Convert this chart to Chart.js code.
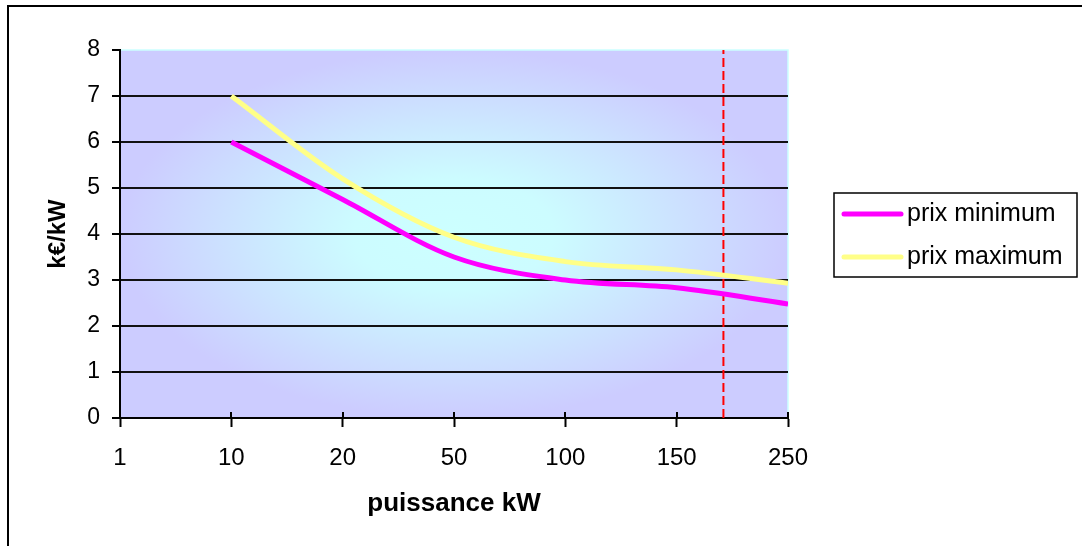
<!DOCTYPE html>
<html>
<head>
<meta charset="utf-8">
<script src="https://cdn.jsdelivr.net/npm/chart.js@4.4.0/dist/chart.umd.min.js"></script>
<style>
  html, body { margin: 0; padding: 0; background: #fff; }
  #wrap { position: relative; width: 1082px; height: 546px; }
  canvas { display: block; }
</style>
</head>
<body>
<div id="wrap"><canvas id="c" width="1082" height="546"></canvas></div>
<script>
// ---- data ----
const categories = ['1', '10', '20', '50', '100', '150', '250'];
const prixMinimum = [null, 6.0, 4.75, 3.5, 3.0, 2.83, 2.48];
const prixMaximum = [null, 7.0, 5.2, 3.93, 3.4, 3.22, 2.93];
const seuilPosition = 5.42;            // position of the red dashed marker on the category axis
const yTicks = [0, 1, 2, 3, 4, 5, 6, 7, 8];
const seriesNames = ['prix minimum', 'prix maximum'];

const FONT = '"Liberation Sans", Arial, sans-serif';

function toPoints(arr) {
  const pts = [];
  arr.forEach((v, i) => { if (v !== null) pts.push({ x: i, y: v }); });
  return pts;
}

const bgPlugin = {
  id: 'bg',
  beforeDraw(chart) {
    const { ctx, chartArea: a } = chart;
    ctx.save();
    // outer frame (left and top visible)
    ctx.strokeStyle = '#000';
    ctx.lineWidth = 2;
    ctx.beginPath();
    ctx.moveTo(8, 546); ctx.lineTo(8, 6); ctx.lineTo(1082, 6);
    ctx.stroke();
    // plot area gradient
    const cx = (a.left + a.right) / 2, cy = (a.top + a.bottom) / 2;
    const w = (a.right - a.left) / 2, h = (a.bottom - a.top) / 2;
    ctx.save();
    ctx.beginPath();
    ctx.rect(a.left, a.top, a.right - a.left, a.bottom - a.top);
    ctx.clip();
    ctx.translate(cx, cy);
    ctx.scale(w, h);
    const g = ctx.createRadialGradient(0, 0, 0, 0, 0, 1.0);
    g.addColorStop(0, '#ccffff');
    g.addColorStop(0.3, '#ccfcff');
    g.addColorStop(1, '#ccccff');
    ctx.fillStyle = g;
    ctx.fillRect(-1.2, -1.2, 2.4, 2.4);
    ctx.restore();
    ctx.strokeStyle = '#ccffff';
    ctx.lineWidth = 1.5;
    ctx.strokeRect(a.left, a.top, a.right - a.left, a.bottom - a.top);
    ctx.restore();
  },
  afterDraw(chart) {
    const { ctx, chartArea: a } = chart;
    const xs = chart.scales.x;
    ctx.save();
    // small upward part of x ticks
    ctx.strokeStyle = '#000';
    ctx.lineWidth = 2;
    categories.forEach((c, i) => {
      const px = Math.round(xs.getPixelForValue(i));
      ctx.beginPath();
      ctx.moveTo(px, a.bottom);
      ctx.lineTo(px, a.bottom - 6);
      ctx.stroke();
    });
    // legend
    const lx = 834, ly = 193, lw = 243, lh = 84;
    ctx.fillStyle = '#fff';
    ctx.fillRect(lx, ly, lw, lh);
    ctx.strokeStyle = '#000';
    ctx.lineWidth = 1.5;
    ctx.strokeRect(lx, ly, lw, lh);
    const rows = [214, 257];
    chart.data.datasets.slice(0, 2).forEach((ds, i) => {
      ctx.strokeStyle = ds.borderColor;
      ctx.lineWidth = 5;
      ctx.lineCap = 'round';
      ctx.beginPath();
      ctx.moveTo(844, rows[i]);
      ctx.lineTo(901, rows[i]);
      ctx.stroke();
      ctx.fillStyle = '#000';
      ctx.font = '25px ' + FONT;
      ctx.textBaseline = 'middle';
      ctx.textAlign = 'left';
      ctx.fillText(ds.label, 907, rows[i]);
    });
    ctx.restore();
  }
};

new Chart(document.getElementById('c'), {
  type: 'line',
  data: {
    datasets: [
      {
        label: seriesNames[0],
        data: toPoints(prixMinimum),
        borderColor: '#ff00ff',
        borderWidth: 5,
        pointRadius: 0,
        cubicInterpolationMode: 'monotone',
        fill: false
      },
      {
        label: seriesNames[1],
        data: toPoints(prixMaximum),
        borderColor: '#ffff88',
        borderWidth: 5,
        pointRadius: 0,
        cubicInterpolationMode: 'monotone',
        fill: false
      },
      {
        label: 'seuil',
        data: [{ x: seuilPosition, y: yTicks[0] }, { x: seuilPosition, y: yTicks[yTicks.length - 1] }],
        borderColor: '#ff0000',
        borderWidth: 2,
        borderDash: [9, 4],
        pointRadius: 0,
        tension: 0,
        fill: false
      }
    ]
  },
  options: {
    responsive: false,
    animation: false,
    devicePixelRatio: 1,
    layout: { padding: { left: 0, top: 50, right: 294, bottom: 0 } },
    plugins: { legend: { display: false }, tooltip: { enabled: false } },
    scales: {
      x: {
        type: 'linear',
        min: 0,
        max: categories.length - 1,
        afterFit(s) { s.height = 128; },
        afterBuildTicks(s) { s.ticks = categories.map((c, i) => ({ value: i })); },
        ticks: {
          stepSize: 1,
          autoSkip: false,
          maxRotation: 0,
          padding: 17,
          color: '#000',
          font: { family: FONT, size: 24 },
          callback: (v) => categories[v]
        },
        grid: { display: true, drawOnChartArea: false, tickLength: 9, tickColor: '#000', tickWidth: 2, color: '#000' },
        border: { display: true, color: '#000', width: 2 },
        title: {
          display: true,
          text: 'puissance kW',
          color: '#000',
          font: { family: FONT, size: 26, weight: 'bold' },
          padding: { top: 0, bottom: 27 }
        }
      },
      y: {
        min: yTicks[0],
        max: yTicks[yTicks.length - 1],
        afterFit(s) { s.width = 120; },
        afterBuildTicks(s) { s.ticks = yTicks.map(v => ({ value: v })); },
        ticks: {
          stepSize: 1,
          padding: 12,
          color: '#000',
          font: { family: FONT, size: 23 }
        },
        grid: {
          color: (c) => (c.tick && (c.tick.value === 0 || c.tick.value === 8)) ? 'rgba(0,0,0,0)' : '#111',
          lineWidth: 2,
          tickColor: '#000',
          tickLength: 8,
          tickWidth: 2
        },
        border: { display: true, color: '#000', width: 2 },
        title: {
          display: true,
          text: 'k€/kW',
          color: '#000',
          font: { family: FONT, size: 24, weight: 'bold' },
          padding: { top: 44, bottom: 0 }
        }
      }
    }
  },
  plugins: [bgPlugin]
});
</script>
</body>
</html>
